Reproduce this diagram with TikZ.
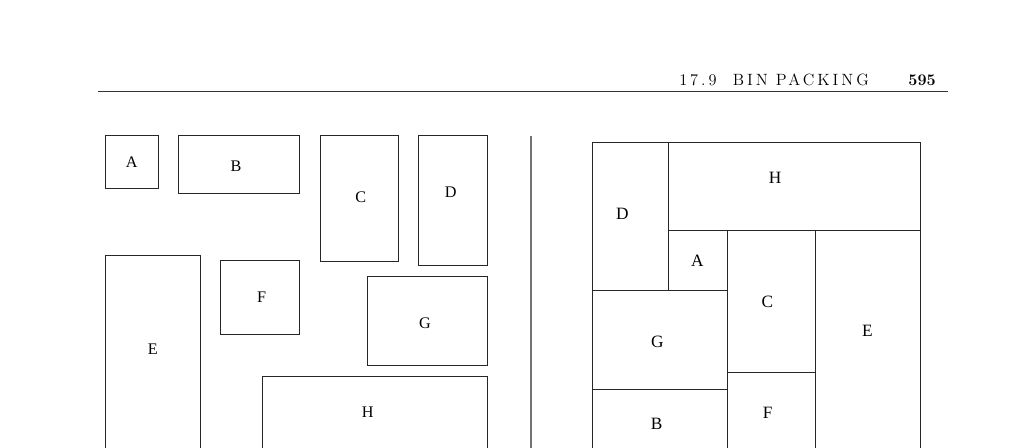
\documentclass[tikz,border=0pt]{standalone}
\usepackage{fontspec}
\newfontfamily\labelfont{Liberation Serif}
\newfontfamily\headfont[LetterSpace=18]{Latin Modern Roman}
\tikzset{
  pkbox/.style={draw=black!85,line width=0.7pt},
  pklabel/.style={font=\labelfont\fontsize{11.5}{13}\selectfont,inner sep=0pt},
  pkhead/.style={font=\headfont\fontsize{11.6}{13}\selectfont,inner sep=0pt,anchor=base west}
}

\begin{document}
\begin{tikzpicture}[x=0.025cm,y=-0.025cm]
    \useasboundingbox (0,0) rectangle (1024,447);
    \clip (0,0) rectangle (1024,447);
    % running head
    \node[pkhead] (sect) at (679,85.3) {17.9\quad BIN PACKING};
    \node[pklabel,font=\fontsize{11.5}{13}\selectfont\bfseries,anchor=base east] (page) at (936,85.3) {595};
    \coordinate (ruleL) at (98,91.5);
    \coordinate (ruleR) at (948,91.5);
    \draw[line width=0.7pt,black!80] (ruleL) -- (ruleR);
    % items to be packed
    \foreach \nm/\xa/\ya/\xb/\yb/\lx/\ly in {
        A/105.3/135.7/158.7/188/131.7/161.7,
        B/178.3/135.7/299/193.3/236/166.7,
        C/320/135.7/398.3/261/360.7/197.7,
        D/418.3/135.7/487.3/265.7/450.7/192.7,
        E/105.3/255.7/200/470/152.7/348.7,
        F/220.3/260.7/299/334.3/261.7/297.7,
        G/367/276.3/487.3/365.7/425/323.3,
        H/262.3/376/487.3/470/367.7/412.3} {
        \draw[pkbox] (\xa,\ya) rectangle (\xb,\yb);
        \node[pklabel] (item\nm) at (\lx,\ly) {\nm};
      }
    % divider
    \coordinate (divT) at (531,136);
    \coordinate (divB) at (531,470);
    \draw[line width=1pt,black!55] (divT) -- (divB);
    % packed bin
    \foreach \nm/\xa/\ya/\xb/\yb/\lx/\ly in {
        D/592.3/142.7/668.3/290/622.3/214,
        H/668.3/142.7/920/230.7/775/178.3,
        A/668.3/230.7/727/290/697.3/260.7,
        C/727/230.7/815.3/372.3/767.3/301.7,
        E/815.3/230.7/920/470/867.3/331,
        G/592.3/290/727/389.3/657.3/342.3,
        B/592.3/389.3/727/470/656.7/424,
        F/727/372.3/815.3/470/767.7/412.7} {
        \draw[pkbox] (\xa,\ya) rectangle (\xb,\yb);
        \node[pklabel,font=\labelfont\fontsize{12.3}{14}\selectfont] (bin\nm) at (\lx,\ly) {\nm};
      }
  \end{tikzpicture}
\end{document}
